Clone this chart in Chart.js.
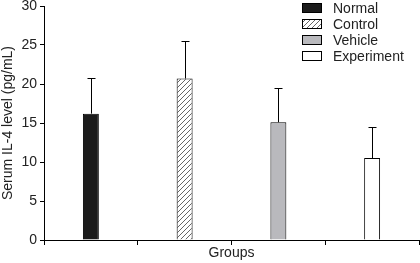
<!DOCTYPE html>
<html>
<head>
<meta charset="utf-8">
<script src="https://cdn.jsdelivr.net/npm/chart.js@4"></script>
<style>
  html, body { margin: 0; padding: 0; background: #fff; }
  #wrap { width: 420px; height: 263px; }
</style>
</head>
<body>
<div id="wrap"><canvas id="c" width="420" height="263"></canvas></div>
<script>
// data
const groups = ['Normal', 'Control', 'Vehicle', 'Experiment'];
const meanIL4 = [16.2, 20.7, 15.1, 10.5];
const sdIL4 = [4.6, 4.8, 4.4, 4.0];
const yTicks = [0, 5, 10, 15, 20, 25, 30];

// diagonal hatch for the Control bar
function hatch() {
    const p = document.createElement('canvas');
    p.width = 5; p.height = 5;
    const g = p.getContext('2d');
    g.fillStyle = '#fff';
    g.fillRect(0, 0, 5, 5);
    g.strokeStyle = '#555';
    g.lineWidth = 0.9;
    g.beginPath();
    g.moveTo(-1, 6); g.lineTo(6, -1);
    g.moveTo(-1, 1); g.lineTo(1, -1);
    g.moveTo(4, 6); g.lineTo(6, 4);
    g.stroke();
    return document.getElementById('c').getContext('2d').createPattern(p, 'repeat');
}

const fills = ['#1b1b1b', hatch(), '#b9b9bd', '#ffffff'];

// error bars drawn from the bar positions on the y scale
const errorBars = {
    id: 'errorBars',
    afterDatasetsDraw(chart) {
        const ctx = chart.ctx;
        const y = chart.scales.y;
        const meta = chart.getDatasetMeta(0);
        ctx.save();
        ctx.strokeStyle = '#000';
        ctx.lineWidth = 1;
        meta.data.forEach((bar, i) => {
            const x = Math.round(bar.x) + 0.5;
            const top = Math.round(y.getPixelForValue(meanIL4[i] + sdIL4[i])) + 0.5;
            const base = y.getPixelForValue(meanIL4[i]);
            ctx.beginPath();
            ctx.moveTo(x, base);
            ctx.lineTo(x, top);
            ctx.moveTo(x - 4, top);
            ctx.lineTo(x + 4, top);
            ctx.stroke();
        });
        ctx.restore();
    }
};

// legend sits inside the plot, top right
const boxLegend = {
    id: 'boxLegend',
    afterDraw(chart) {
        const ctx = chart.ctx;
        ctx.save();
        ctx.font = '14px "Liberation Sans", Arial, sans-serif';
        ctx.textBaseline = 'middle';
        groups.forEach((name, i) => {
            const cy = 8 + i * 16;
            ctx.fillStyle = fills[i];
            ctx.fillRect(302, cy - 5, 20, 10);
            ctx.strokeStyle = '#000';
            ctx.lineWidth = 1;
            ctx.strokeRect(302.5, cy - 4.5, 19, 9);
            ctx.fillStyle = '#222';
            ctx.fillText(name, 333, cy + 1);
        });
        ctx.restore();
    }
};

Chart.defaults.font.family = '"Liberation Sans", Arial, sans-serif';
Chart.defaults.font.size = 14;
Chart.defaults.color = '#222';

new Chart(document.getElementById('c'), {
    type: 'bar',
    data: {
        labels: groups,
        datasets: [{
            data: meanIL4,
            backgroundColor: fills,
            borderColor: '#000',
            borderWidth: 1,
            categoryPercentage: 1,
            barPercentage: 0.17
        }]
    },
    options: {
        responsive: false,
        animation: false,
        layout: { padding: { top: 6, right: 1, left: 0, bottom: 0 } },
        plugins: { legend: { display: false }, tooltip: { enabled: false } },
        scales: {
            x: {
                offset: true,
                grid: { offset: true, drawOnChartArea: false, color: '#000', tickLength: 5 },
                border: { color: '#000', width: 1 },
                ticks: { callback: () => '' },
                title: { display: true, text: 'Groups', padding: { top: 0, bottom: 1 } },
                afterFit: s => { s.height = 23; s.paddingLeft = 0; s.paddingRight = 0; }
            },
            y: {
                min: 0,
                max: 30,
                afterBuildTicks: s => { s.ticks = yTicks.map(v => ({ value: v })); },
                grid: { drawOnChartArea: false, color: '#000', tickLength: 4 },
                border: { color: '#000', width: 1 },
                ticks: { padding: 3, color: '#222' },
                title: { display: true, text: 'Serum IL-4 level (pg/mL)', padding: { top: 0, bottom: 0 } },
                afterFit: s => { s.width = 44; s.paddingTop = 0; s.paddingBottom = 0; }
            }
        }
    },
    plugins: [errorBars, boxLegend]
});
</script>
</body>
</html>
